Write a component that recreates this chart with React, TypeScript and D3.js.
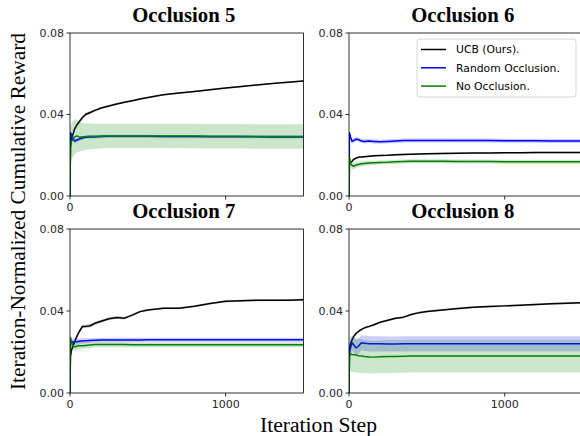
import React from 'react';
import * as d3 from 'd3';

// ---------- data ----------
const steps = [0, 3, 10, 20, 30, 45, 60, 80, 100, 130, 160, 200, 250, 300, 350, 400, 450, 500, 600, 700, 800, 900, 1000, 1100, 1200, 1300, 1400, 1500];

const titles = ['Occlusion 5', 'Occlusion 6', 'Occlusion 7', 'Occlusion 8'];
const seriesNames = ['UCB (Ours).', 'Random Occlusion.', 'No Occlusion.'];
const seriesColors = ['#000000', '#0000ff', '#008000'];

const yTicks = [0, 0.04, 0.08];
const yTickLabels = ['0.00', '0.04', '0.08'];
const xTicks = [0, 1000];
const xTickLabelsTop = ['0', ''];
const xTickLabelsBottom = ['0', '1000'];

// Occlusion 5
const occ5Ucb = [0, 0.024, 0.028, 0.0305, 0.033, 0.035, 0.0365, 0.0385, 0.040, 0.041, 0.042, 0.0432, 0.0442, 0.0452, 0.046, 0.0468, 0.0476, 0.0483, 0.0497, 0.0505, 0.0513, 0.0522, 0.053, 0.0537, 0.0545, 0.0552, 0.0558, 0.0565];
const occ5Random = [0, 0.031, 0.030, 0.028, 0.027, 0.0275, 0.028, 0.0285, 0.0288, 0.029, 0.029, 0.0292, 0.0293, 0.0293, 0.0293, 0.0293, 0.0293, 0.0293, 0.0292, 0.0292, 0.0292, 0.0291, 0.0291, 0.0291, 0.0291, 0.029, 0.029, 0.029];
const occ5None = [0, 0.025, 0.027, 0.028, 0.029, 0.0295, 0.029, 0.029, 0.0292, 0.0293, 0.0293, 0.0294, 0.0295, 0.0295, 0.0295, 0.0295, 0.0295, 0.0295, 0.0295, 0.0294, 0.0294, 0.0293, 0.0293, 0.0293, 0.0292, 0.0292, 0.0292, 0.0292];
const occ5UcbBand = [0, 0.001, 0.001, 0.001, 0.001, 0.001, 0.001, 0.0009, 0.0008, 0.0007, 0.0006, 0.0005, 0.0005, 0.0005, 0.0005, 0.0005, 0.0005, 0.0004, 0.0004, 0.0004, 0.0004, 0.0004, 0.0004, 0.0004, 0.0004, 0.0004, 0.0004, 0.0004];
const occ5RandomBand = [0, 0.0015, 0.0015, 0.0015, 0.0012, 0.001, 0.001, 0.0009, 0.0008, 0.0008, 0.0008, 0.0008, 0.0008, 0.0008, 0.0008, 0.0008, 0.0008, 0.0008, 0.0008, 0.0008, 0.0008, 0.0008, 0.0008, 0.0008, 0.0008, 0.0008, 0.0008, 0.0008];
const occ5NoneBand = [0, 0.009, 0.009, 0.0088, 0.0085, 0.008, 0.0072, 0.0068, 0.0065, 0.0063, 0.0062, 0.006, 0.006, 0.006, 0.006, 0.006, 0.006, 0.006, 0.006, 0.006, 0.006, 0.006, 0.006, 0.006, 0.006, 0.006, 0.006, 0.006];

// Occlusion 6
const occ6Ucb = [0, 0.016, 0.0165, 0.017, 0.018, 0.0185, 0.019, 0.0192, 0.0193, 0.0195, 0.0197, 0.0199, 0.020, 0.0202, 0.0204, 0.0205, 0.0206, 0.0207, 0.0209, 0.021, 0.0211, 0.0211, 0.0212, 0.0212, 0.0213, 0.0213, 0.0213, 0.0213];
const occ6Random = [0, 0.031, 0.029, 0.0268, 0.0272, 0.0279, 0.0277, 0.027, 0.0268, 0.027, 0.0268, 0.0266, 0.0268, 0.027, 0.0272, 0.0272, 0.0273, 0.0273, 0.0273, 0.0272, 0.0272, 0.0272, 0.0271, 0.0271, 0.0271, 0.027, 0.027, 0.027];
const occ6None = [0, 0.019, 0.016, 0.015, 0.0145, 0.0152, 0.0155, 0.0158, 0.016, 0.0162, 0.0163, 0.0165, 0.0166, 0.0168, 0.0169, 0.017, 0.017, 0.017, 0.017, 0.0169, 0.0169, 0.0169, 0.0168, 0.0168, 0.0168, 0.0168, 0.0168, 0.0168];
const occ6UcbBand = [0, 0.0006, 0.0006, 0.0005, 0.0005, 0.0005, 0.0004, 0.0004, 0.0004, 0.0004, 0.0004, 0.0004, 0.0004, 0.0004, 0.0004, 0.0004, 0.0004, 0.0004, 0.0004, 0.0004, 0.0004, 0.0004, 0.0004, 0.0004, 0.0004, 0.0004, 0.0004, 0.0004];
const occ6RandomBand = [0, 0.0012, 0.0012, 0.0011, 0.0011, 0.001, 0.001, 0.001, 0.001, 0.001, 0.001, 0.001, 0.001, 0.001, 0.001, 0.001, 0.001, 0.001, 0.001, 0.001, 0.001, 0.001, 0.001, 0.001, 0.001, 0.001, 0.001, 0.001];
const occ6NoneBand = [0, 0.0018, 0.0018, 0.0017, 0.0016, 0.0015, 0.0014, 0.0013, 0.0012, 0.0011, 0.001, 0.001, 0.001, 0.001, 0.001, 0.001, 0.001, 0.001, 0.001, 0.001, 0.001, 0.001, 0.001, 0.001, 0.001, 0.001, 0.001, 0.001];

// Occlusion 7
const occ7Ucb = [0, 0.018, 0.021, 0.023, 0.025, 0.0278, 0.030, 0.0325, 0.0325, 0.0328, 0.034, 0.035, 0.0362, 0.0368, 0.0365, 0.038, 0.0397, 0.0405, 0.0413, 0.0413, 0.0423, 0.0437, 0.0447, 0.045, 0.0452, 0.0452, 0.0453, 0.0455];
const occ7Random = [0, 0.025, 0.0245, 0.025, 0.025, 0.025, 0.0252, 0.0254, 0.0255, 0.0256, 0.0257, 0.0258, 0.0258, 0.0259, 0.0259, 0.0259, 0.0259, 0.026, 0.026, 0.026, 0.026, 0.026, 0.026, 0.026, 0.026, 0.026, 0.026, 0.026];
const occ7None = [0, 0.027, 0.025, 0.0228, 0.0225, 0.0228, 0.023, 0.0231, 0.0232, 0.0234, 0.0236, 0.0236, 0.0236, 0.0236, 0.0236, 0.0235, 0.0235, 0.0235, 0.0235, 0.0235, 0.0235, 0.0235, 0.0235, 0.0235, 0.0235, 0.0235, 0.0235, 0.0235];
const occ7UcbBand = [0, 0.001, 0.001, 0.001, 0.001, 0.001, 0.0009, 0.0008, 0.0008, 0.0008, 0.0008, 0.0007, 0.0007, 0.0007, 0.0007, 0.0006, 0.0006, 0.0005, 0.0005, 0.0005, 0.0005, 0.0005, 0.0005, 0.0005, 0.0005, 0.0005, 0.0005, 0.0005];
const occ7RandomBand = [0, 0.0018, 0.0018, 0.0017, 0.0016, 0.0015, 0.0014, 0.0013, 0.0012, 0.0011, 0.001, 0.001, 0.001, 0.001, 0.001, 0.001, 0.001, 0.001, 0.001, 0.001, 0.001, 0.001, 0.001, 0.001, 0.001, 0.001, 0.001, 0.001];
const occ7NoneBand = [0, 0.002, 0.002, 0.002, 0.0019, 0.0018, 0.0017, 0.0016, 0.0015, 0.0014, 0.0014, 0.0013, 0.0013, 0.0013, 0.0013, 0.0013, 0.0013, 0.0013, 0.0013, 0.0013, 0.0013, 0.0013, 0.0013, 0.0013, 0.0013, 0.0013, 0.0013, 0.0013];

// Occlusion 8
const occ8Ucb = [0, 0.022, 0.024, 0.026, 0.0275, 0.029, 0.030, 0.031, 0.0318, 0.0325, 0.0333, 0.0345, 0.0355, 0.0365, 0.037, 0.0383, 0.0392, 0.0398, 0.0405, 0.0412, 0.0418, 0.0422, 0.0425, 0.0428, 0.0432, 0.0435, 0.0438, 0.044];
const occ8Random = [0, 0.020, 0.022, 0.0245, 0.0235, 0.022, 0.0228, 0.0245, 0.0243, 0.024, 0.024, 0.024, 0.0239, 0.0239, 0.024, 0.024, 0.024, 0.024, 0.024, 0.024, 0.024, 0.024, 0.024, 0.024, 0.024, 0.024, 0.024, 0.024];
const occ8None = [0, 0.019, 0.019, 0.0188, 0.0187, 0.0185, 0.0182, 0.018, 0.0178, 0.0176, 0.0175, 0.0177, 0.0178, 0.0178, 0.0179, 0.018, 0.018, 0.018, 0.018, 0.018, 0.018, 0.018, 0.018, 0.018, 0.018, 0.018, 0.018, 0.018];
const occ8UcbBand = [0, 0.0008, 0.0008, 0.0007, 0.0007, 0.0006, 0.0006, 0.0005, 0.0005, 0.0005, 0.0005, 0.0005, 0.0005, 0.0005, 0.0005, 0.0005, 0.0005, 0.0005, 0.0005, 0.0005, 0.0005, 0.0005, 0.0005, 0.0005, 0.0005, 0.0005, 0.0005, 0.0005];
const occ8RandomBand = [0, 0.0038, 0.0038, 0.0038, 0.0038, 0.0038, 0.0038, 0.0037, 0.0037, 0.0037, 0.0037, 0.0037, 0.0037, 0.0037, 0.0037, 0.0037, 0.0037, 0.0037, 0.0037, 0.0037, 0.0037, 0.0037, 0.0037, 0.0037, 0.0037, 0.0037, 0.0037, 0.0037];
const occ8NoneBand = [0, 0.0085, 0.0085, 0.0085, 0.0085, 0.0085, 0.0083, 0.0082, 0.0081, 0.008, 0.008, 0.008, 0.008, 0.008, 0.008, 0.008, 0.008, 0.008, 0.008, 0.008, 0.008, 0.008, 0.008, 0.008, 0.008, 0.008, 0.008, 0.008];

const panelMeans = [
  [occ5Ucb, occ5Random, occ5None],
  [occ6Ucb, occ6Random, occ6None],
  [occ7Ucb, occ7Random, occ7None],
  [occ8Ucb, occ8Random, occ8None],
];
const panelBands = [
  [occ5UcbBand, occ5RandomBand, occ5NoneBand],
  [occ6UcbBand, occ6RandomBand, occ6NoneBand],
  [occ7UcbBand, occ7RandomBand, occ7NoneBand],
  [occ8UcbBand, occ8RandomBand, occ8NoneBand],
];

// ---------- layout ----------
const W = 580;
const H = 436;
const colX = [[70, 303.5], [349, 582.5]];
const rowY = [[33, 196], [229, 393]];
const tickFont = 'DejaVu Sans, sans-serif';
const serif = 'Liberation Serif, Times New Roman, serif';

type PanelProps = { idx: number };

function Panel({ idx }: PanelProps) {
  const col = idx % 2;
  const row = Math.floor(idx / 2);
  const [x0, x1] = colX[col];
  const [y0, y1] = rowY[row];
  const x = d3.scaleLinear().domain([0, 1500]).range([x0, x1]);
  const y = d3.scaleLinear().domain([0, 0.08]).range([y1, y0]);
  const means = panelMeans[idx];
  const bands = panelBands[idx];
  const clipId = `clip${idx}`;
  const xLabels = row === 0 ? xTickLabelsTop : xTickLabelsBottom;

  return (
    <g>
      <defs>
        <clipPath id={clipId}>
          <rect x={x0} y={y0} width={x1 - x0} height={y1 - y0} />
        </clipPath>
      </defs>
      <g clipPath={`url(#${clipId})`}>
        {means.map((m, si) => {
          const b = bands[si];
          const area = d3
            .area<number>()
            .x((_, i) => x(steps[i]))
            .y0((_, i) => y(m[i] - b[i]))
            .y1((_, i) => y(m[i] + b[i]));
          const line = d3
            .line<number>()
            .x((_, i) => x(steps[i]))
            .y((v) => y(v));
          return (
            <g key={si}>
              <path d={area(m) || ''} fill={seriesColors[si]} fillOpacity={0.2} stroke="none" />
              <path d={line(m) || ''} fill="none" stroke={seriesColors[si]} strokeWidth={1.5} strokeLinejoin="round" />
            </g>
          );
        })}
      </g>
      <rect x={x0} y={y0} width={x1 - x0} height={y1 - y0} fill="none" stroke="#000" strokeWidth={0.8} />
      {yTicks.map((t, i) => (
        <g key={`y${i}`}>
          <line x1={x0 - 3.5} x2={x0} y1={y(t)} y2={y(t)} stroke="#000" strokeWidth={0.8} />
          <text x={x0 - 6} y={y(t)} dy="0.35em" textAnchor="end" fontFamily={tickFont} fontSize={11} fill="#262626">
            {yTickLabels[i]}
          </text>
        </g>
      ))}
      {xTicks.map((t, i) => (
        <g key={`x${i}`}>
          <line x1={x(t)} x2={x(t)} y1={y1} y2={y1 + 3.5} stroke="#000" strokeWidth={0.8} />
          {xLabels[i] !== '' && (
            <text x={x(t)} y={y1 + 6} dy="0.8em" textAnchor="middle" fontFamily={tickFont} fontSize={11} fill="#262626">
              {xLabels[i]}
            </text>
          )}
        </g>
      ))}
      <text
        x={(x0 + x1) / 2 - 3}
        y={y0 - 11.5}
        textAnchor="middle"
        fontFamily={serif}
        fontWeight="bold"
        fontSize={20}
        textLength={103}
        lengthAdjust="spacingAndGlyphs"
      >
        {titles[idx]}
      </text>
    </g>
  );
}

function Legend() {
  const lx = 417;
  const ly = 39;
  return (
    <g>
      <rect x={lx} y={ly} width={159} height={58} rx={3} fill="#fff" fillOpacity={0.8} stroke="#cccccc" strokeWidth={0.8} />
      {seriesNames.map((name, i) => {
        const yy = 49.5 + i * 18.3;
        return (
          <g key={name}>
            <line x1={421} x2={446} y1={yy} y2={yy} stroke={seriesColors[i]} strokeWidth={1.5} />
            <text x={456} y={yy} dy="0.35em" fontFamily={tickFont} fontSize={10.8} fill="#000">
              {name}
            </text>
          </g>
        );
      })}
    </g>
  );
}

export default function App() {
  return (
    <div style={{ position: 'absolute', left: 0, top: 0 }}>
      <svg width={W} height={H} style={{ display: 'block', background: '#fff' }}>
        {[0, 1, 2, 3].map((i) => (
          <Panel key={i} idx={i} />
        ))}
        <Legend />
        <text
          transform="translate(24.5,211.5) rotate(-90)"
          textAnchor="middle"
          fontFamily={serif}
          fontSize={20}
          textLength={357}
          lengthAdjust="spacingAndGlyphs"
        >
          Iteration-Normalized Cumulative Reward
        </text>
        <text
          x={318.5}
          y={431.5}
          textAnchor="middle"
          fontFamily={serif}
          fontSize={20}
          textLength={117}
          lengthAdjust="spacingAndGlyphs"
        >
          Iteration Step
        </text>
      </svg>
    </div>
  );
}
